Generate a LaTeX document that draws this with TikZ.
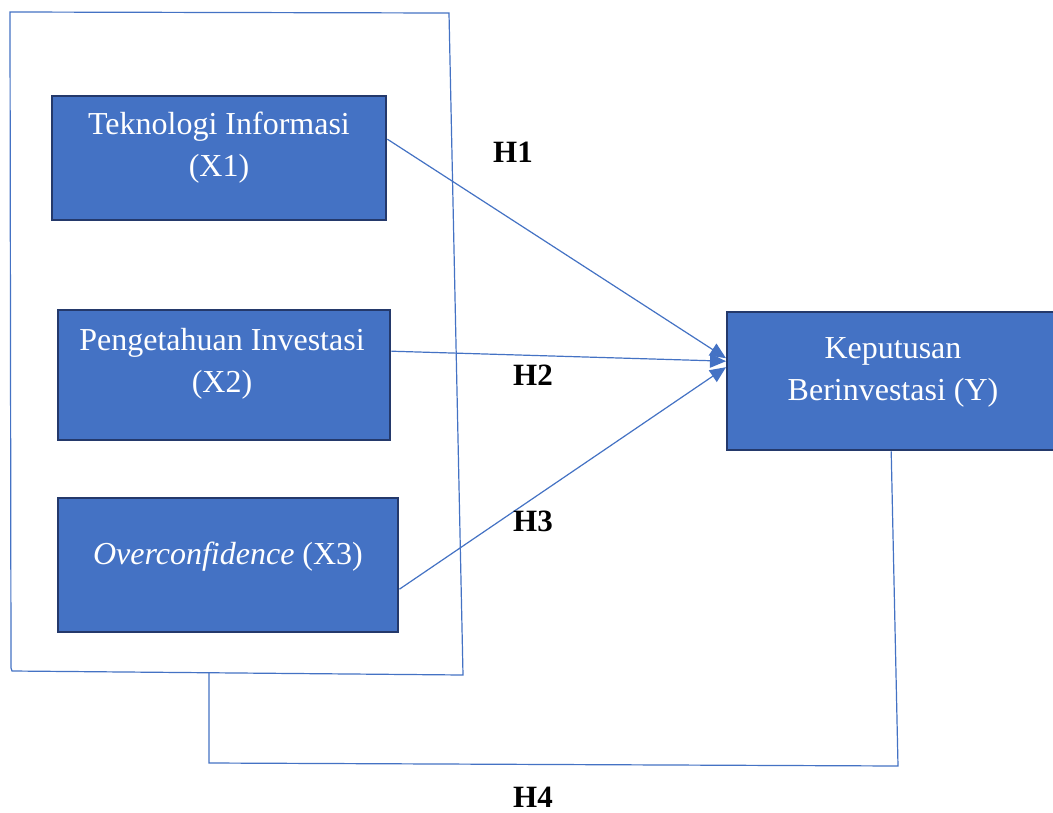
\documentclass[tikz,border=0pt]{standalone}
\usepackage{fontspec}
\setmainfont{Liberation Serif}
\usetikzlibrary{arrows.meta,calc}
\definecolor{boxfill}{HTML}{4472C4}
\definecolor{boxline}{HTML}{24396B}
\definecolor{conn}{HTML}{4472C4}
\begin{document}
\begin{tikzpicture}[x=1pt,y=-1pt,
  varbox/.style={draw=boxline,line width=2.4pt,fill=boxfill,inner sep=0pt,anchor=north west},
  boxtext/.style={text=white,align=center,inner sep=0pt,anchor=north,font=\fontsize{32}{42}\selectfont},
  hlabel/.style={inner sep=0pt,font=\fontsize{31}{38}\selectfont\bfseries},
  conline/.style={draw=conn,line width=1.2pt},
  arr/.style={conline,-{Triangle[length=16pt,width=14pt]}}]
\clip (0,0) rectangle (1053,812);
\fill[white] (0,0) rectangle (1053,812);
% frame around independent variables
\draw[conline] (10,12) -- (449,13) -- (463,675) -- (12,671) -- (11,668) -- cycle;
% boxes
\node[varbox,minimum width=334pt,minimum height=124pt] (x1) at (51,95) {};
\node[varbox,minimum width=332pt,minimum height=130pt] (x2) at (57,309) {};
\node[varbox,minimum width=340pt,minimum height=134pt] (x3) at (57,497) {};
\node[varbox,minimum width=336pt,minimum height=138pt] (y) at (726,311) {};
% box texts
\node[boxtext] (x1t) at (219,112) {Teknologi Informasi\\(X1)};
\node[boxtext] (x2t) at (222,328) {Pengetahuan Investasi\\(X2)};
\node[boxtext] (x3t) at (228,542) {\textit{Overconfidence} (X3)};
\node[boxtext] (yt) at (893,337) {Keputusan\\Berinvestasi (Y)};
% arrows
\draw[arr] ([yshift=19pt]x1.east) -- ([yshift=23pt]y.west);
\draw[arr] ([yshift=24pt]x2.east) -- ([yshift=20pt]y.west);
\draw[arr] ([yshift=-24pt]x3.east) -- ([yshift=14pt]y.west);
% H4 connector
\coordinate (fb) at (209,673);
\coordinate (c1) at (209,763);
\coordinate (c2) at (898,766);
\draw[conline] ([xshift=-4pt]y.south) -- (c2) -- (c1) -- (fb);
% labels
\node[hlabel] (h1) at (513,152) {H1};
\node[hlabel] (h2) at (533,375) {H2};
\node[hlabel] (h3) at (533,521) {H3};
\node[hlabel] (h4) at (533,797) {H4};
\end{tikzpicture}
\end{document}
